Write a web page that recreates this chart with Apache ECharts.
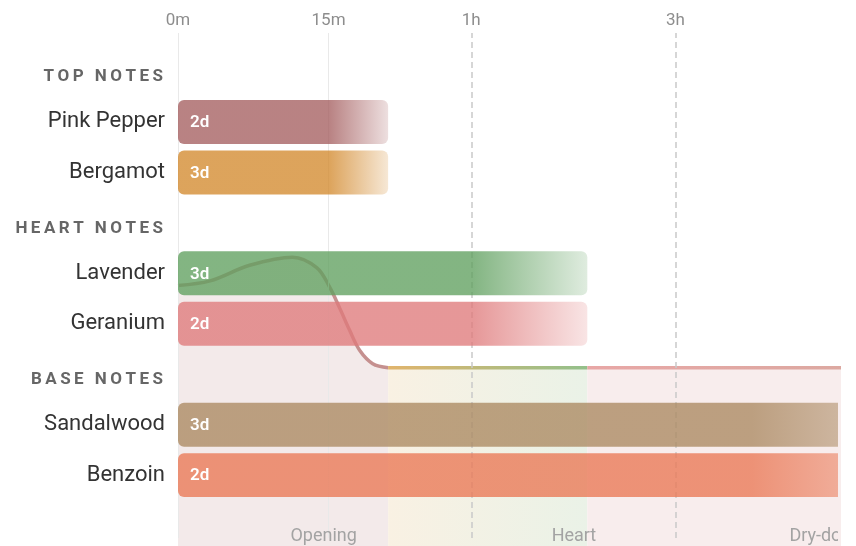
<!DOCTYPE html>
<html>
<head>
<meta charset="utf-8">
<script src="https://cdn.jsdelivr.net/npm/echarts@6/dist/echarts.min.js"></script>
<style>
  html, body { margin: 0; background: #fff; }
  #chart { width: 856px; height: 546px; }
</style>
</head>
<body>
<div id="chart"></div>
<script>
// rows of the y axis (headers + notes + empty slot for phase labels)
const rows = ['TOP NOTES', 'Pink Pepper', 'Bergamot', 'HEART NOTES', 'Lavender', 'Geranium', 'BASE NOTES', 'Sandalwood', 'Benzoin', ''];
const headers = ['TOP NOTES', 'HEART NOTES', 'BASE NOTES'];

// notes: how long each one lasts (minutes) and the longevity tag
const notes = ['Pink Pepper', 'Bergamot', 'Lavender', 'Geranium', 'Sandalwood', 'Benzoin'];
const noteEnd = [30, 30, 120, 120, 480, 480];
const noteTag = ['2d', '3d', '3d', '2d', '3d', '2d'];

// time axis ticks
const tickMinutes = [0, 15, 60, 180];
const tickLabels = ['0m', '15m', '1h', '3h'];
const dashedTicks = [60, 180];
const xMaxMinutes = 324;

// phases
const phases = ['Opening', 'Heart', 'Dry-down'];
const phaseBounds = [0, 30, 120, 480];
const phaseLabelAt = [14, 112, 313];

// intensity curve
const curveMinutes = [0, 0.6, 3.2, 8.5, 12.7, 15.2, 17.4, 19.7, 22.2, 25.6, 30, 120, 480];
const curveLevel = [52.6, 53.5, 56.6, 58.2, 56.1, 52.3, 48.1, 43.7, 39.7, 37.1, 36.3, 36.3, 36.3];

// styles
const noteColors = ['#a55f60', '#d38a2e', '#60a05f', '#df7a7b', '#ab8961', '#ea7855'];
const FONT = 'Roboto, "Noto Sans", sans-serif';

const toX = t => Math.pow(t, 0.481);
function rgba(hex, a) {
  const n = parseInt(hex.slice(1), 16);
  return 'rgba(' + (n >> 16) + ',' + ((n >> 8) & 255) + ',' + (n & 255) + ',' + a + ')';
}
function hGrad(c0, c1) {
  return new echarts.graphic.LinearGradient(0, 0, 1, 0, [
    { offset: 0, color: c0 }, { offset: 1, color: c1 }
  ]);
}
const lineFill = ['#c5908f', hGrad('#e2b46c', '#92c08b'), hGrad('#e8a7a6', '#d6a99e')];
const areaFill = ['#f3eaea', hGrad('#f9f1e3', '#eaf2e7'), '#f8eded'];

const chart = echarts.init(document.getElementById('chart'));

const series = [];

// phase areas + curve (below bars)
phases.forEach((name, i) => {
  const a = phaseBounds[i], b = phaseBounds[i + 1];
  const pts = [];
  curveMinutes.forEach((t, k) => { if (t >= a && t <= b) pts.push([toX(t), curveLevel[k]]); });
  series.push({
    name: name, type: 'line', xAxisIndex: 0, yAxisIndex: 1,
    data: pts, smooth: i === 0 ? 0.35 : false, symbol: 'none', silent: true,
    lineStyle: { width: 3.5, color: lineFill[i] },
    areaStyle: { color: areaFill[i], opacity: 1 },
    z: 1
  });
});

// grid lines on their own grid (they run above the plot area)
series.push({
  type: 'line', xAxisIndex: 1, yAxisIndex: 2, data: [], z: 2, silent: true,
  markLine: {
    silent: true, symbol: 'none', label: { show: false }, animation: false,
    data: tickMinutes.map(t => {
      const dashed = dashedTicks.includes(t);
      return {
        xAxis: toX(t),
        lineStyle: dashed
          ? { color: '#c9c9c9', width: 1.5, type: [6, 4] }
          : { color: '#e9e9e9', width: 1, type: 'solid' }
      };
    })
  }
});

// note bars
series.push({
  type: 'custom', xAxisIndex: 0, yAxisIndex: 0, clip: true, z: 10, silent: true,
  data: notes.map((n, i) => [toX(0), toX(noteEnd[i]), rows.indexOf(n)]),
  encode: { x: [0, 1], y: 2 },
  renderItem(params, api) {
    const i = params.dataIndex;
    const s = api.coord([api.value(0), api.value(2)]);
    const e = api.coord([api.value(1), api.value(2)]);
    const h = api.size([0, 1])[1] * 0.872;
    const c = noteColors[i];
    return {
      type: 'group',
      children: [{
        type: 'rect',
        shape: { x: s[0], y: s[1] - h / 2, width: e[0] - s[0], height: h, r: 6 },
        style: {
          fill: new echarts.graphic.LinearGradient(0, 0, 1, 0, [
            { offset: 0, color: rgba(c, 0.78) },
            { offset: 0.72, color: rgba(c, 0.78) },
            { offset: 1, color: rgba(c, 0.2) }
          ])
        }
      }, {
        type: 'text', x: s[0] + 12, y: s[1] + 1,
        style: {
          text: noteTag[i], fill: '#fff', fontSize: 17, fontWeight: 600,
          fontFamily: FONT, verticalAlign: 'middle', align: 'left'
        }
      }]
    };
  }
});

// phase names at the bottom
series.push({
  type: 'custom', xAxisIndex: 0, yAxisIndex: 0, clip: true, z: 6, silent: true,
  data: phases.map((p, i) => [toX(phaseLabelAt[i]), rows.length - 1]),
  encode: { x: 0, y: 1 },
  renderItem(params, api) {
    const p = api.coord([api.value(0), api.value(1)]);
    return {
      type: 'text', x: p[0], y: p[1] + 11,
      style: {
        text: phases[params.dataIndex], fill: '#a3a3a3', fontSize: 18,
        fontFamily: FONT, align: 'center', verticalAlign: 'middle'
      }
    };
  }
});

chart.setOption({
  animation: false,
  backgroundColor: '#fff',
  textStyle: { fontFamily: FONT },
  grid: [
    { left: 178, right: 18, top: 46.3, height: 504.5, outerBoundsMode: 'none', containLabel: false },
    { left: 178, right: 18, top: 33, bottom: 8, outerBoundsMode: 'none', containLabel: false }
  ],
  xAxis: [
    { type: 'value', gridIndex: 0, min: 0, max: toX(xMaxMinutes), show: false },
    {
      type: 'value', gridIndex: 1, position: 'top', min: 0, max: toX(xMaxMinutes),
      axisLine: { show: false }, axisTick: { show: false }, splitLine: { show: false },
      axisLabel: {
        customValues: tickMinutes.map(toX), margin: 4, fontSize: 17, color: '#8d8d8d',
        formatter: v => {
          const k = tickMinutes.findIndex(t => Math.abs(toX(t) - v) < 1e-6);
          return k >= 0 ? tickLabels[k] : '';
        }
      }
    }
  ],
  yAxis: [
    {
      type: 'category', gridIndex: 0, inverse: true, data: rows,
      axisLine: { show: false }, axisTick: { show: false }, splitLine: { show: false },
      axisLabel: {
        margin: 13,
        formatter: v => headers.includes(v)
          ? '{h|' + v.split('').join('\u2009') + '}'
          : '{n|' + v + '}',
        rich: {
          h: { fontSize: 17, fontWeight: 'bold', color: '#666', padding: [11, 2, 0, 0], fontFamily: FONT },
          n: { fontSize: 22, color: '#333', fontFamily: FONT }
        }
      }
    },
    { type: 'value', gridIndex: 0, min: 0, max: 100, show: false },
    { type: 'value', gridIndex: 1, min: 0, max: 1, show: false }
  ],
  series: series
});
</script>
</body>
</html>
